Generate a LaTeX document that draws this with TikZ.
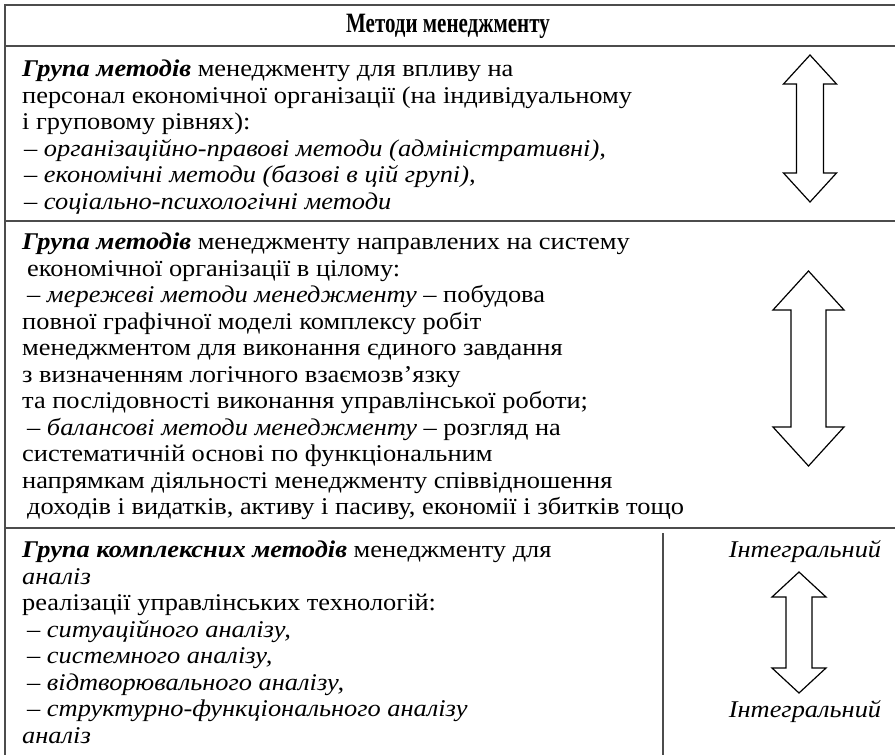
\documentclass[tikz,border=0pt]{standalone}
\usepackage{fontspec}
\setmainfont{Liberation Serif}[FakeStretch=1.10]
\newfontfamily\titlefont{Liberation Serif}[FakeStretch=0.75]
\newcommand\myarrow[6]{% cx, ytop, ybot, headhalf, shafthalf, headlen
  \draw[arrowline] (#1,#2) -- (#1+#4,#2+#6) -- (#1+#5,#2+#6) -- (#1+#5,#3-#6) -- (#1+#4,#3-#6)
    -- (#1,#3) -- (#1-#4,#3-#6) -- (#1-#5,#3-#6) -- (#1-#5,#2+#6) -- (#1-#4,#2+#6) -- cycle;}
\newcommand\bi[1]{\textbf{\textit{#1}}}
\begin{document}
\begin{tikzpicture}[x=1pt,y=-1pt,
  frame/.style={draw=black!70,line width=1.8pt},
  thinframe/.style={draw=black!70,line width=1.2pt},
  arrowline/.style={draw=black,line width=1.2pt,fill=white,line join=miter},
  rowtext/.style={anchor=north west,inner sep=0pt,align=left,
    font=\fontsize{24}{26.5}\selectfont},
  sidetext/.style={inner sep=0pt,font=\fontsize{24}{26.5}\selectfont\itshape}]
\useasboundingbox (0,0) rectangle (895,755);
% frame
\draw[frame] (895,5) -- (5,5) -- (5,755);
\draw[frame] (5,46) -- (895,46);
\draw[frame] (5,221) -- (895,221);
\draw[frame] (5,528) -- (895,528);
\draw[thinframe] (663,533) -- (663,755);
% title
\node[inner sep=0pt,font=\fontsize{28}{28}\titlefont\bfseries] (title) at (448,26) {Методи менеджменту};
% row 1
\node[rowtext] (r1) at (22,60) {\bi{Група методів} менеджменту для впливу на\\
персонал економічної організації (на індивідуальному\\
і груповому рівнях):\\
\hspace*{2pt}\textit{– організаційно-правові методи (адміністративні),}\\
\hspace*{2pt}\textit{– економічні методи (базові в цій групі),}\\
\hspace*{2pt}\textit{– соціально-психологічні методи}};
% row 2
\node[rowtext] (r2) at (22,233) {\bi{Група методів} менеджменту направлених на систему\\
\hspace*{5pt}економічної організації в цілому:\\
\hspace*{5pt}\textit{– мережеві методи менеджменту} – побудова\\
повної графічної моделі комплексу робіт\\
менеджментом для виконання єдиного завдання\\
з визначенням логічного взаємозв’язку\\
та послідовності виконання управлінської роботи;\\
\hspace*{5pt}\textit{– балансові методи менеджменту} – розгляд на\\
систематичній основі по функціональним\\
напрямкам діяльності менеджменту співвідношення\\
\hspace*{5pt}доходів і видатків, активу і пасиву, економії і збитків тощо};
% row 3
\node[rowtext] (r3) at (22,541) {\bi{Група комплексних методів} менеджменту для\\
\textit{аналіз}\\
реалізації управлінських технологій:\\
\hspace*{5pt}\textit{– ситуаційного аналізу,}\\
\hspace*{5pt}\textit{– системного аналізу,}\\
\hspace*{5pt}\textit{– відтворювального аналізу,}\\
\hspace*{5pt}\textit{– структурно-функціонального аналізу}\\
\textit{аналіз}};
% arrows
\myarrow{810}{55}{202}{26.5}{13.5}{29}
\myarrow{808.5}{271}{466}{35.5}{17.5}{39}
\myarrow{799}{572}{693}{27}{13}{25}
\node[sidetext] (int1) at (805,552) {Інтегральний};
\node[sidetext] (int2) at (805,712) {Інтегральний};
\end{tikzpicture}
\end{document}
